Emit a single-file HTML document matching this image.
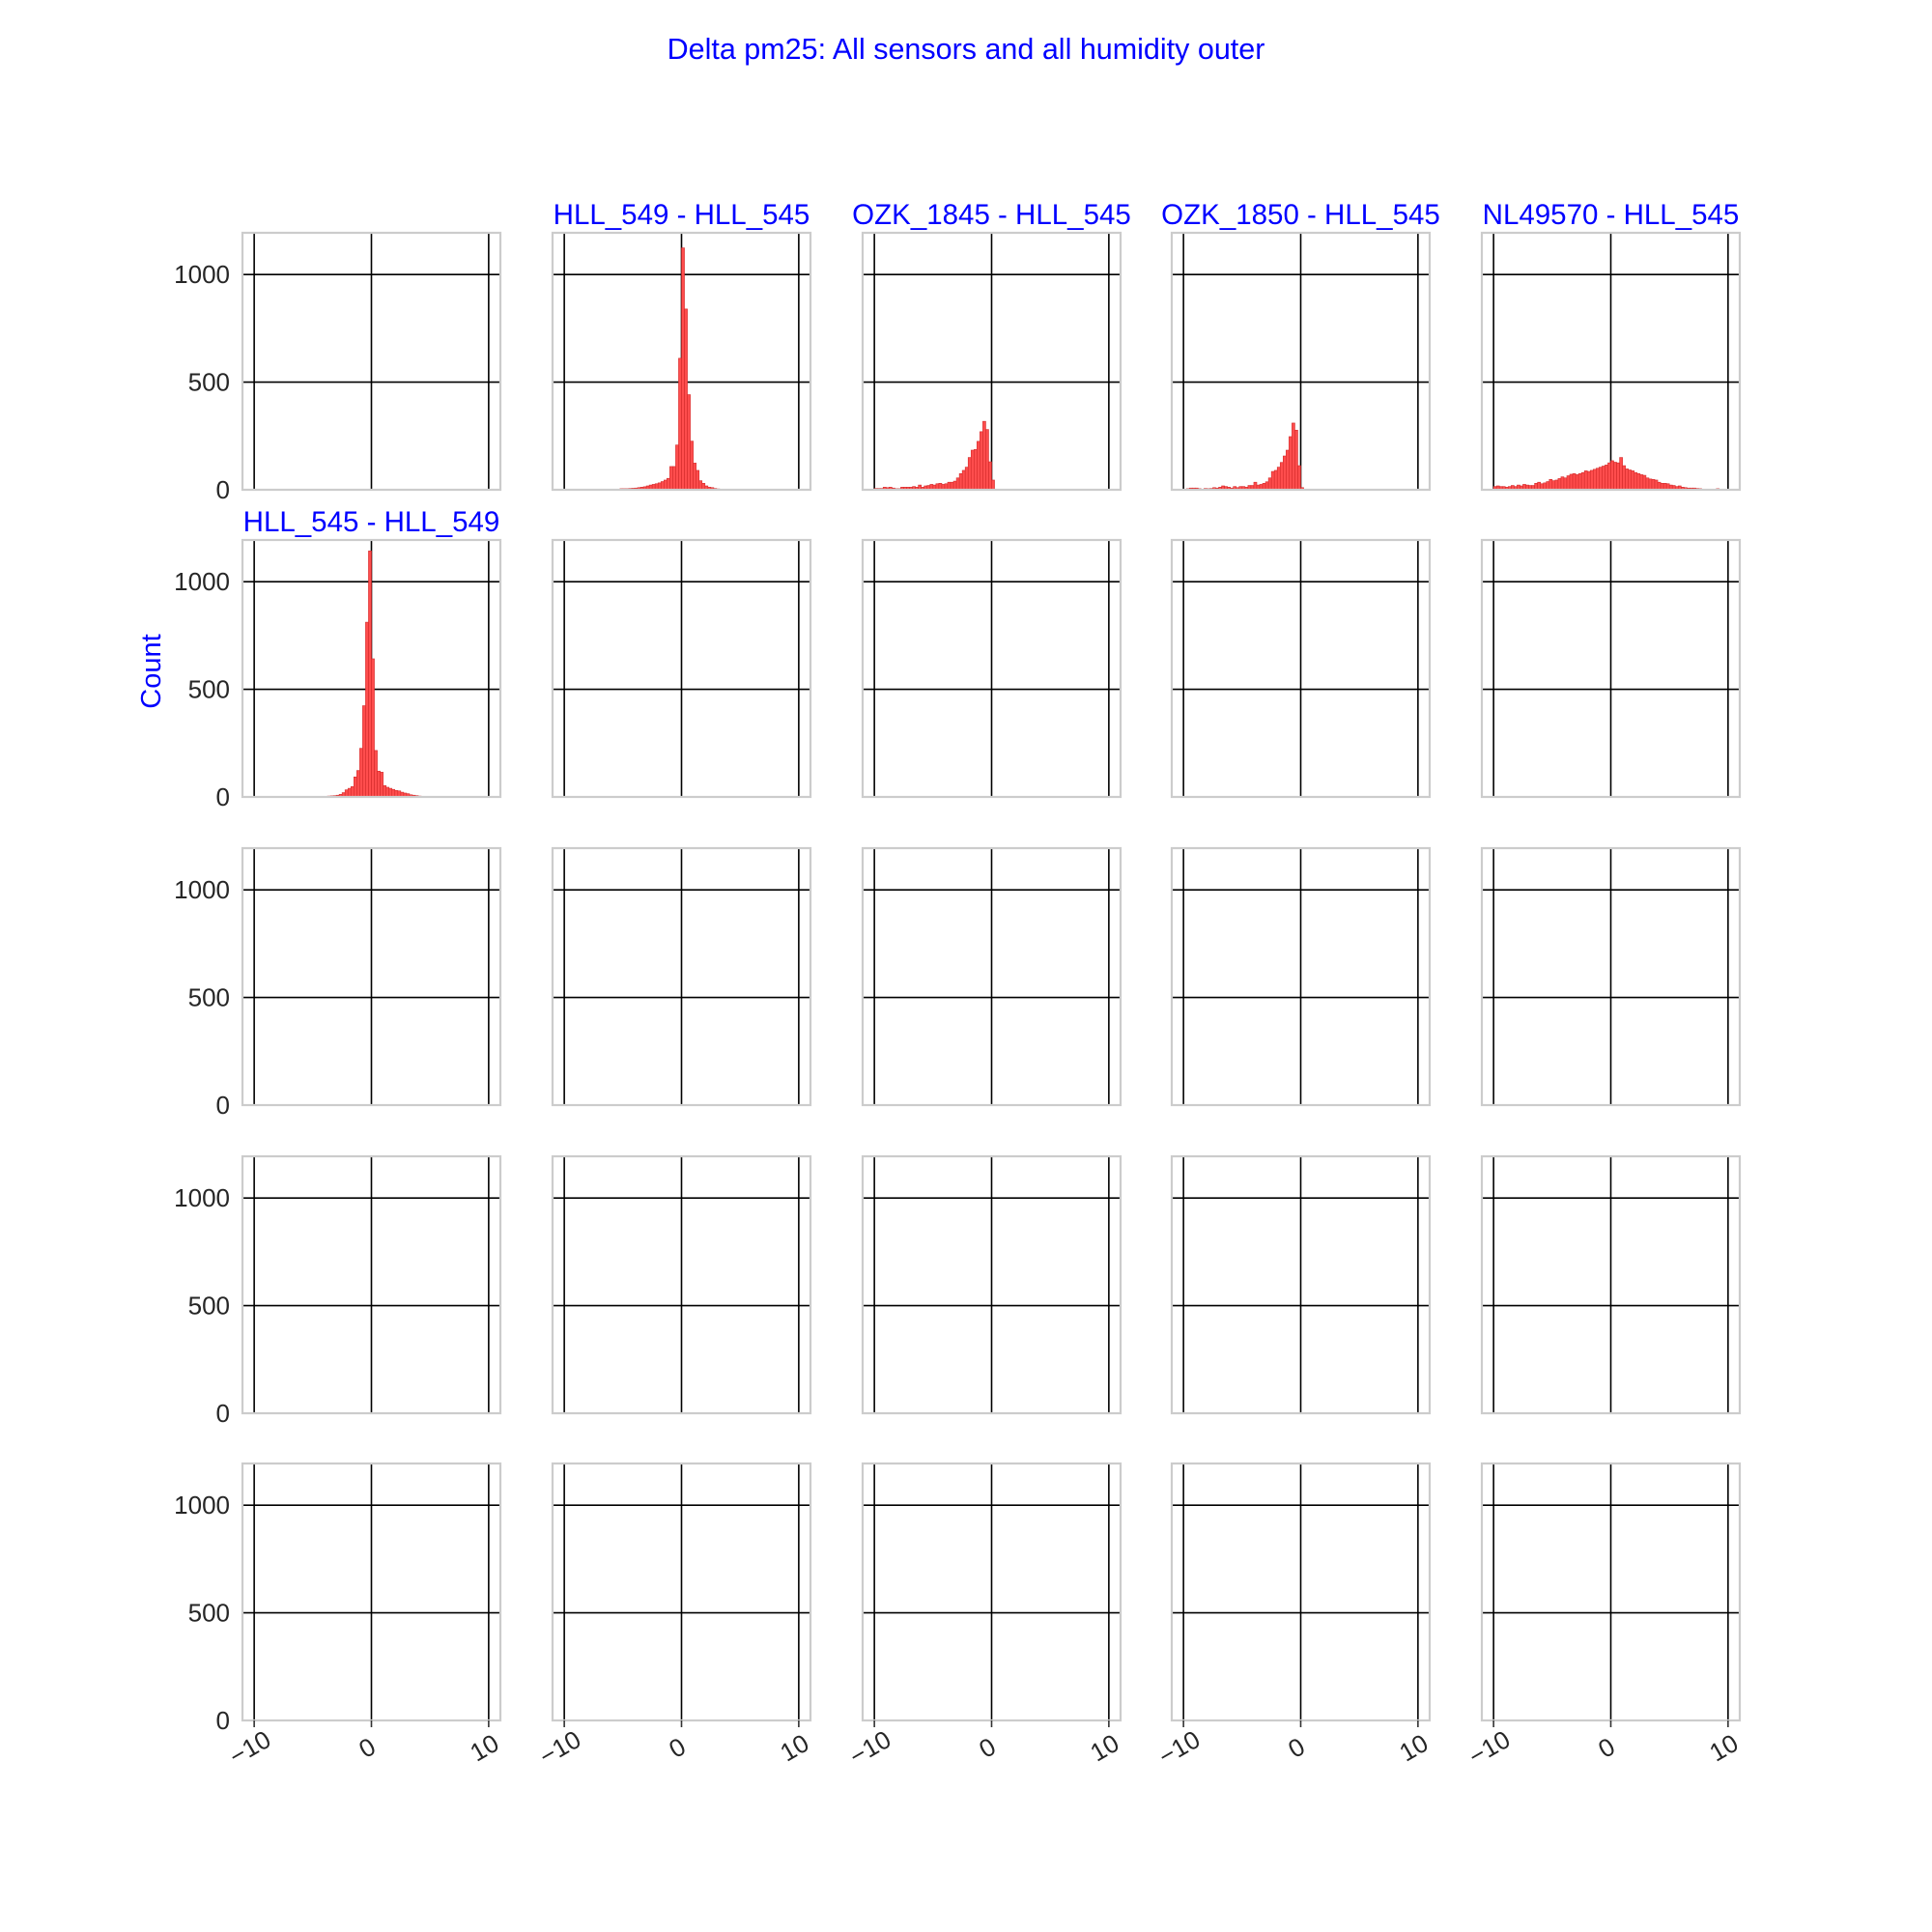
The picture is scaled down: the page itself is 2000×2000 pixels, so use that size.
<!DOCTYPE html>
<html><head><meta charset="utf-8"><style>
html,body{margin:0;padding:0;background:#fff;}
svg{display:block;font-family:"Liberation Sans",Arial,sans-serif;}
</style></head><body>
<svg id="fig" width="2000" height="2000" viewBox="0 0 2000 2000" xmlns="http://www.w3.org/2000/svg">
<rect width="2000" height="2000" fill="#fff"/>
<text x="1000" y="61" text-anchor="middle" font-size="30.5" fill="#0000ff">Delta pm25: All sensors and all humidity outer</text>
<text transform="translate(166,695) rotate(-90)" text-anchor="middle" font-size="29" fill="#0000ff">Count</text>
<g id="panels"></g>
</svg>
<script>
const xTicks = [-10, 0, 10];
const xTickLabels = ["\u221210", "0", "10"];
const yTicks = [0, 500, 1000];
const yTickLabels = ["0", "500", "1000"];
const binWidth = 0.25;
const panelTitles = [
  ["", "HLL_549 - HLL_545", "OZK_1845 - HLL_545", "OZK_1850 - HLL_545", "NL49570 - HLL_545"],
  ["HLL_545 - HLL_549", "", "", "", ""],
  ["", "", "", "", ""],
  ["", "", "", "", ""],
  ["", "", "", "", ""]
];
const histCells = [[0,1],[0,2],[0,3],[0,4],[1,0]];
const histStarts = [-6.25, -10, -10, -10, -4.5];
const histA = [3,2,2,3,5,5,5,6,7,8,10,12,14,18,22,25,28,32,38,45,53,108,108,208,611,1124,840,442,226,124,90,42,30,18,12,10,6,4,3,2];
const histB = [6,6,6,12,10,12,8,5,5,12,12,12,12,15,12,22,12,18,20,25,22,28,30,25,28,35,35,40,55,75,90,105,150,184,187,225,270,318,280,130,45];
const histC = [3,5,8,8,8,5,3,6,5,6,10,8,12,18,15,12,8,15,10,15,15,12,20,20,35,22,25,30,37,55,85,90,105,127,157,184,247,310,277,112,10];
const histD = [15,18,15,15,12,15,20,15,22,18,25,22,20,20,30,35,28,32,38,48,42,45,52,60,55,65,72,75,70,75,80,88,85,90,95,100,105,110,115,125,135,128,125,150,112,97,92,88,80,75,70,67,55,50,48,45,35,30,30,28,22,20,15,18,12,10,8,8,8,6,5,3,3,2,2,2,5,2];
const histE = [2,2,3,4,5,6,8,12,20,33,40,48,93,123,226,424,812,1143,642,216,120,115,53,45,40,35,30,28,22,18,15,10,8,6,4,3,2];
const histSeries = [histA, histB, histC, histD, histE];

const colLeft = [251, 572, 893, 1213, 1534];
const rowTop = [241, 559, 878, 1197, 1515];
const PW = 267, PH = 266;
const XMIN = -11, XMAX = 11, YMAX = 1194;
const NS = "http://www.w3.org/2000/svg";
const root = document.getElementById('panels');
function mk(tag, attrs, parent){ const e=document.createElementNS(NS,tag); for(const k in attrs) e.setAttribute(k,attrs[k]); parent.appendChild(e); return e; }
function xs(c, v){ return colLeft[c] + (v - XMIN) / (XMAX - XMIN) * PW; }
function ys(r, v){ return rowTop[r] + PH - v / YMAX * PH; }

for (let r = 0; r < 5; r++) for (let c = 0; c < 5; c++) {
  const g = mk('g', {}, root);
  
  
  yTicks.forEach(t => {
    const l = mk('line', {x1: colLeft[c], x2: colLeft[c]+PW, y1: ys(r,t), y2: ys(r,t), stroke:'#000', 'stroke-width':1.6}, g);
    
    
  });
  xTicks.forEach(t => {
    const l = mk('line', {x1: xs(c,t), x2: xs(c,t), y1: rowTop[r], y2: rowTop[r]+PH, stroke:'#000', 'stroke-width':1.6}, g);
    
    
  });
  const hi = histCells.findIndex(p => p[0] === r && p[1] === c);
  if (hi >= 0) {
    const counts = histSeries[hi];
    counts.forEach((v, i) => {
      const x0 = histStarts[hi] + i * binWidth;
      const bx = xs(c, x0), bw = xs(c, x0 + binWidth) - bx;
      const b = mk('rect', {x: bx, y: ys(r, v), width: bw, height: ys(r,0) - ys(r,v), fill:'#ff4d4d', stroke:'#d22a2a', 'stroke-width':0.6}, g);
      
      
    });
  }
  const s = mk('rect', {x: colLeft[c], y: rowTop[r], width: PW, height: PH, fill:'none', stroke:'#cccccc', 'stroke-width':2.2}, g);
  
  
  if (panelTitles[r][c]) {
    const t = mk('text', {x: colLeft[c] + PW/2, y: rowTop[r] - 9, 'text-anchor':'middle', 'font-size':29.5, fill:'#0000ff'}, g);
    t.textContent = panelTitles[r][c];
    
    
  }
  if (c === 0) {
    yTicks.forEach((t, i) => {
      const tx = mk('text', {x: colLeft[c] - 13, y: ys(r,t) + 9, 'text-anchor':'end', 'font-size':26, fill:'#262626'}, g);
      tx.textContent = yTickLabels[i];
      
      
    });
  }
  if (r === 4) {
    xTicks.forEach((t, i) => {
      const x = xs(c, t), yb = rowTop[r] + PH;
      const tk = mk('line', {x1: x, x2: x, y1: yb, y2: yb + 7, stroke:'#333', 'stroke-width':1.6}, g);
      
      
      const tx = mk('text', {x: 0, y: 0, 'text-anchor':'middle', 'font-size':26, fill:'#262626', transform:'translate(' + x + ',' + (yb + 36) + ') rotate(-30)'}, g);
      tx.textContent = xTickLabels[i];
      
      
    });
  }
}
</script>
</body></html>
